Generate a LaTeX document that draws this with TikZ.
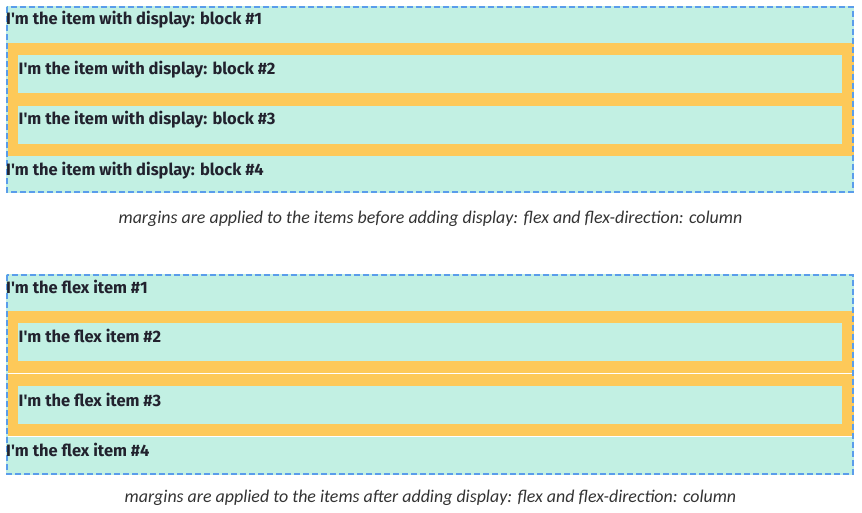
\documentclass[tikz,border=0pt]{standalone}
\usepackage{fontspec}
\newfontfamily\itemfont{Fira Sans}
\newfontfamily\capfont{Carlito}
\definecolor{mint}{HTML}{C2F0E3}
\definecolor{amber}{HTML}{FDC959}
\definecolor{edge}{HTML}{5A9DEB}
\definecolor{ink}{HTML}{22222E}
\definecolor{capink}{HTML}{333333}
\tikzset{
  itembox/.style={fill=mint, draw=none, inner sep=0pt, anchor=north west},
  marginbox/.style={fill=amber, draw=none, inner sep=0pt, anchor=north west},
  itemtext/.style={anchor=base west, inner sep=0pt, text=ink, font=\itemfont\bfseries\fontsize{16.5}{19}\selectfont},
  captext/.style={anchor=base, inner sep=0pt, text=capink, font=\capfont\itshape\fontsize{17.9}{21}\selectfont},
  frame/.style={draw=edge, line width=2pt, dash pattern=on 6pt off 3pt},
  seam/.style={draw=white, line width=0.8pt}
}
\begin{document}
\begin{tikzpicture}[x=1pt,y=-1pt]
\useasboundingbox (0,0) rectangle (862,513);
% ---------- top container ----------
\fill[mint] (6,6) rectangle (854,193);
\node[marginbox, minimum width=846pt, minimum height=113pt] (m1) at (8,43) {};
\node[itembox, minimum width=824pt, minimum height=38pt] (a2) at (18,55) {};
\node[itembox, minimum width=824pt, minimum height=38pt] (a3) at (18,106) {};
\draw[frame] (7,7) rectangle (853,192);
\node[itemtext] (ta1) at (6,25) {I'm the item with display: block \#1};
\node[itemtext] (ta2) at (18.5,74.5) {I'm the item with display: block \#2};
\node[itemtext] (ta3) at (18.5,125) {I'm the item with display: block \#3};
\node[itemtext] (ta4) at (6,175.5) {I'm the item with display: block \#4};
\node[captext] (c1) at (430.5,223) {margins are applied to the items before adding display: flex and flex-direction: column};
% ---------- bottom container ----------
\fill[mint] (6,273.5) rectangle (854,474.5);
\node[marginbox, minimum width=846pt, minimum height=62.5pt] (m2) at (8,311) {};
\node[marginbox, minimum width=846pt, minimum height=62.5pt] (m3) at (8,373.7) {};
\node[itembox, minimum width=824pt, minimum height=38pt] (b2) at (18,323) {};
\node[itembox, minimum width=824pt, minimum height=38pt] (b3) at (18,386) {};
\draw[seam] (8,373.4) -- (854,373.4);
\draw[seam] (8,436.4) -- (854,436.4);
\draw[frame] (7,274.5) rectangle (853,473.5);
\node[itemtext] (tb1) at (6,293) {I'm the flex item \#1};
\node[itemtext] (tb2) at (18.5,342.5) {I'm the flex item \#2};
\node[itemtext] (tb3) at (18.5,406) {I'm the flex item \#3};
\node[itemtext] (tb4) at (6,456.5) {I'm the flex item \#4};
\node[captext] (c2) at (430.5,502) {margins are applied to the items after adding display: flex and flex-direction: column};
\end{tikzpicture}
\end{document}
